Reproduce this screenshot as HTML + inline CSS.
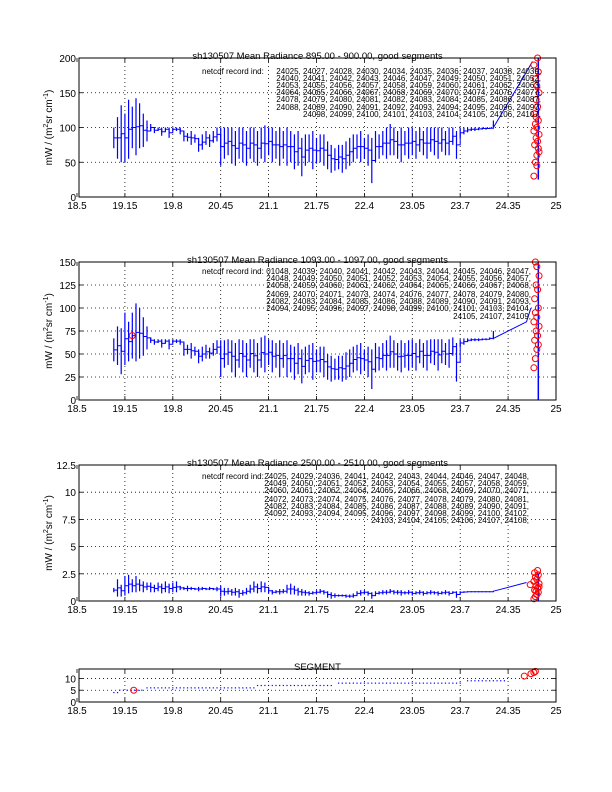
<!DOCTYPE html>
<html><head><meta charset="utf-8"><style>
body{margin:0;background:#fff}
svg{display:block;font-family:"Liberation Sans",sans-serif}
</style></head><body>
<svg id="fig" width="612" height="792" viewBox="0 0 612 792" xmlns="http://www.w3.org/2000/svg"></svg>
<script>
const xTicks=[18.5,19.15,19.8,20.45,21.1,21.75,22.4,23.05,23.7,24.35,25];
const xTickLabels=["18.5","19.15","19.8","20.45","21.1","21.75","22.4","23.05","23.7","24.35","25"];
const times=[19.00,19.05,19.10,19.15,19.20,19.25,19.30,19.35,19.40,19.45,19.50,19.55,19.60,19.65,19.70,19.75,19.80,19.85,19.90,19.95,20.00,20.05,20.10,20.15,20.20,20.25,20.30,20.35,20.40,20.45,20.50,20.55,20.60,20.65,20.70,20.75,20.80,20.85,20.90,20.95,21.00,21.05,21.10,21.15,21.20,21.25,21.30,21.35,21.40,21.45,21.50,21.55,21.60,21.65,21.70,21.75,21.80,21.85,21.90,21.95,22.00,22.05,22.10,22.15,22.20,22.25,22.30,22.35,22.40,22.45,22.50,22.55,22.60,22.65,22.70,22.75,22.80,22.85,22.90,22.95,23.00,23.05,23.10,23.15,23.20,23.25,23.30,23.35,23.40,23.45,23.50,23.55,23.60,23.65,23.70,23.75,23.80,23.85,23.90,23.95,24.00,24.05,24.10,24.15];
const p1Lo=[70,55,50,50,55,70,60,70,72,80,95,92,95,88,95,85,95,95,90,80,80,75,78,65,68,75,72,78,80,45,55,60,48,45,55,50,45,55,50,45,55,50,60,50,55,45,55,45,50,40,45,30,45,50,40,48,50,45,40,35,38,40,35,40,45,50,55,50,55,45,20,50,55,60,55,60,60,55,50,60,55,60,55,65,60,55,65,60,55,65,60,60,75,55,85,90,93,95,95,96,97,97,98,100];
const p1Hi=[100,115,132,120,140,130,142,135,120,110,105,100,100,100,100,100,100,100,100,95,92,95,90,85,90,95,90,95,100,100,100,100,100,95,100,100,95,100,100,95,100,103,100,100,95,100,95,100,95,90,95,85,90,90,95,85,90,90,80,75,70,75,75,80,85,90,90,95,85,90,85,95,90,95,100,105,100,95,100,95,100,100,95,100,95,100,100,100,100,100,95,100,100,95,100,100,100,100,100,100,100,100,100,110];
const p2Lo=[42,38,28,38,42,45,42,45,48,55,62,60,62,57,62,55,62,62,60,48,50,45,48,40,42,45,45,48,50,25,35,38,30,25,35,30,25,35,30,25,35,30,38,30,35,25,35,25,30,22,28,18,28,30,22,30,30,25,22,20,22,22,20,22,25,30,32,28,32,25,12,30,32,35,32,35,35,32,30,35,32,35,32,40,35,32,40,38,32,40,38,35,48,20,58,60,63,64,64,64,65,65,66,66];
const p2Hi=[67,80,78,95,85,95,105,100,90,80,68,66,66,66,66,66,66,66,66,62,60,62,58,55,58,60,57,62,65,65,65,66,65,62,66,65,62,66,66,62,68,70,66,65,62,65,62,65,60,58,62,55,58,60,62,55,58,58,50,48,45,48,48,52,55,58,60,62,55,58,55,62,58,62,65,70,65,62,65,62,65,66,62,66,62,65,66,66,66,66,62,66,68,62,66,67,67,67,67,67,67,67,68,75];
const p3Lo=[0.8,0.4,0.4,0.5,0.7,0.8,0.8,0.9,0.8,1.0,0.8,0.8,0.9,0.7,0.8,0.7,0.8,0.8,1.0,1.0,0.9,1.0,1.0,0.9,1.0,1.0,1.0,1.0,0.9,0.4,0.5,0.6,0.5,0.5,0.3,0.5,0.6,0.7,0.8,0.7,0.8,0.8,0.7,0.6,0.7,0.6,0.7,0.7,0.6,0.6,0.5,0.5,0.5,0.5,0.6,0.6,0.7,0.6,0.3,0.2,0.3,0.4,0.4,0.3,0.3,0.3,0.5,0.5,0.6,0.5,0.2,0.5,0.6,0.6,0.6,0.7,0.6,0.6,0.5,0.6,0.6,0.5,0.6,0.6,0.5,0.6,0.6,0.6,0.5,0.6,0.6,0.5,0.7,0.3,0.7,0.75,0.8,0.8,0.8,0.8,0.8,0.8,0.8,0.85];
const p3Hi=[1.2,2.0,1.5,2.3,2.4,2.0,2.3,2.0,1.8,1.7,1.7,1.5,1.7,1.6,1.8,1.6,1.7,1.8,1.4,1.3,1.4,1.3,1.2,1.3,1.3,1.2,1.3,1.2,1.3,1.4,1.2,1.2,1.1,1.2,1.1,1.0,1.2,1.5,1.8,1.6,1.8,1.7,1.2,1.0,1.0,1.1,1.1,1.5,1.6,1.4,1.2,1.1,1.0,0.9,0.9,1.0,1.1,1.0,0.9,0.8,0.7,0.6,0.6,0.6,0.6,0.7,0.9,1.0,1.0,0.9,0.8,0.9,0.9,1.0,1.0,1.1,1.0,1.0,1.0,0.9,1.0,0.9,0.9,1.0,0.9,0.9,1.0,0.9,0.9,0.9,1.0,0.9,0.9,0.9,0.9,0.9,0.9,0.9,0.9,0.9,0.9,0.9,0.9,0.9];
const p1TailX=[24.15,24.60,24.68],p1TailY=[100,180,195];
const p2TailX=[24.15,24.60,24.66],p2TailY=[67,85,100];
const p3TailX=[24.15,24.60],p3TailY=[0.9,1.7];
const p1RedX=[24.70,24.72,24.74,24.76,24.71,24.75,24.73,24.77,24.70,24.74,24.72,24.76,24.71,24.75,24.73,24.77,24.74,24.72,24.76,24.70,24.75,24.73,24.77,24.74];
const p1RedY=[30,50,60,70,75,80,85,90,95,100,105,110,120,130,140,150,160,170,180,190,200,115,65,45];
const p2RedX=[19.25,24.70,24.72,24.74,24.76,24.71,24.75,24.73,24.77,24.70,24.74,24.72,24.76,24.71,24.75,24.73,24.77,24.74,24.72];
const p2RedY=[70,35,45,55,60,65,70,75,80,85,90,95,100,110,120,125,135,145,150];
const p3RedX=[24.65,24.70,24.72,24.74,24.76,24.71,24.75,24.73,24.77,24.70,24.74,24.72,24.76,24.71,24.75,24.73,24.77];
const p3RedY=[1.5,0.2,0.4,0.6,0.8,1.0,1.2,1.4,1.6,1.8,2.0,2.2,2.4,2.6,2.8,0.9,1.3];
const segStart=[19.00,19.08,19.45,20.95,22.05,23.80];
const segEnd=[19.05,19.40,20.90,21.95,23.70,24.30];
const segVal=[4,5,6,7,8,9];
const segRedX=[19.27,24.57,24.66,24.70,24.72];
const segRedY=[5,11,12,12.5,13];
const ann1=["24025, 24027, 24028, 24030, 24034, 24035, 24036, 24037, 24038, 24039,","24040, 24041, 24042, 24043, 24046, 24047, 24049, 24050, 24051, 24052,","24053, 24055, 24056, 24057, 24058, 24059, 24060, 24061, 24062, 24063,","24064, 24065, 24066, 24067, 24068, 24069, 24070, 24074, 24076, 24077,","24078, 24079, 24080, 24081, 24082, 24083, 24084, 24085, 24086, 24087,","24088, 24089, 24090, 24091, 24092, 24093, 24094, 24095, 24096, 24097,","24098, 24099, 24100, 24101, 24103, 24104, 24105, 24106, 24107,"];
const ann2=["01048, 24039, 24040, 24041, 24042, 24043, 24044, 24045, 24046, 24047,","24048, 24049, 24050, 24051, 24052, 24053, 24054, 24055, 24056, 24057,","24058, 24059, 24060, 24061, 24062, 24064, 24065, 24066, 24067, 24068,","24069, 24070, 24071, 24073, 24074, 24076, 24077, 24078, 24079, 24080,","24082, 24083, 24084, 24085, 24086, 24088, 24089, 24090, 24091, 24093,","24094, 24095, 24096, 24097, 24098, 24099, 24100, 24101, 24103, 24104,","24105, 24107, 24109,"];
const ann3=["24025, 24029, 24036, 24041, 24042, 24043, 24044, 24046, 24047, 24048,","24049, 24050, 24051, 24052, 24053, 24054, 24055, 24057, 24058, 24059,","24060, 24061, 24062, 24064, 24065, 24066, 24068, 24069, 24070, 24071,","24072, 24073, 24074, 24075, 24076, 24077, 24078, 24079, 24080, 24081,","24082, 24083, 24084, 24085, 24086, 24087, 24088, 24089, 24090, 24091,","24092, 24093, 24094, 24095, 24096, 24097, 24098, 24099, 24100, 24102,","24103, 24104, 24105, 24106, 24107, 24108,"];

const NS="http://www.w3.org/2000/svg";
const svg=document.getElementById('fig');
const L=79,R=556;
function X(v){return 77+(v-18.5)*(556-77)/6.5;}
function mk(tag,attrs,parent){const e=document.createElementNS(NS,tag);for(const k in attrs)e.setAttribute(k,attrs[k]);(parent||svg).appendChild(e);return e;}
function txt(s,x,y,size,anchor,parent){const t=mk('text',{x:x,y:y,'font-size':size,'text-anchor':anchor||'start',fill:'#000'},parent);t.textContent=s;return t;}

function panel(cfg){
  const g=mk('g',{});
  
  
  const T=cfg.top,B=cfg.bot;
  const Y=v=>B-(v-cfg.ymin)/(cfg.ymax-cfg.ymin)*(B-T);
  xTicks.forEach((t,i)=>{
    const px=X(t);
    if(i>0&&i<xTicks.length-1){const gl=mk('line',{x1:px,x2:px,y1:T,y2:B,stroke:'#000','stroke-width':0.8,'stroke-dasharray':'1,3'},g);
      }
    mk('line',{x1:px,x2:px,y1:B,y2:B-4,stroke:'#000','stroke-width':0.8},g);
    mk('line',{x1:px,x2:px,y1:T,y2:T+4,stroke:'#000','stroke-width':0.8},g);
    const lb=txt(xTickLabels[i],px,B+12,10,'middle',g);
    
  });
  cfg.yTicks.forEach((t,i)=>{
    const py=Y(t);
    if(i>0&&t<cfg.ymax){const gl=mk('line',{x1:L,x2:R,y1:py,y2:py,stroke:'#000','stroke-width':0.8,'stroke-dasharray':'1,3'},g);
      }
    mk('line',{x1:L,x2:L+4,y1:py,y2:py,stroke:'#000','stroke-width':0.8},g);
    mk('line',{x1:R,x2:R-4,y1:py,y2:py,stroke:'#000','stroke-width':0.8},g);
    const lb=txt(cfg.yLabels[i],L-3,py+4,10,'end',g);
    
  });
  if(cfg.lo){
    let d='';
    times.forEach((t,i)=>{
      const px=X(t).toFixed(1);
      d+='M'+px+','+Y(cfg.hi[i]).toFixed(1)+'L'+px+','+Y(cfg.lo[i]).toFixed(1);
    });
    let s='';
    times.forEach((t,i)=>{
      const m=Y((cfg.lo[i]+cfg.hi[i])/2).toFixed(1);
      s+=(i===0?'M':'L')+X(t).toFixed(1)+','+m;
      if(i<times.length-1)s+='L'+X(times[i+1]).toFixed(1)+','+m;
    });
    cfg.tx.forEach((t,i)=>{s+='L'+X(t).toFixed(1)+','+Y(cfg.ty[i]).toFixed(1);});
    const p=mk('path',{d:d,fill:'none',stroke:'#0000ff','stroke-width':1.2},g);
    
    const p2=mk('path',{d:s,fill:'none',stroke:'#0000ff','stroke-width':1},g);
    
    const vl=mk('line',{x1:X(24.76),x2:X(24.76),y1:Y(cfg.vlo),y2:Y(cfg.vhi),stroke:'#0000ff','stroke-width':1.5},g);
    
  }
  if(cfg.seg){
    cfg.seg.start.forEach((s,k)=>{
      for(let t=s;t<=cfg.seg.end[k]+1e-9;t+=0.05){
        const dt=mk('rect',{x:X(t)-0.6,y:Y(cfg.seg.val[k])-0.6,width:1.2,height:1.2,fill:'#0000ff'},g);
        
      }
    });
  }
  cfg.rx.forEach((x,i)=>{
    const c=mk('circle',{cx:X(x),cy:Y(cfg.ry[i]),r:3,fill:'none',stroke:'#ff0000','stroke-width':1},g);
    
  });
  const box=mk('rect',{x:L,y:T,width:R-L,height:B-T,fill:'none',stroke:'#000','stroke-width':1},g);
  
  const ti=txt(cfg.title,(L+R)/2,T+1,9.5,'middle',g);
  
  if(cfg.ann){
    const nl=txt('netcdf record ind:',202,cfg.annY[0]+3,8,'start',g);
    
    cfg.ann.forEach((s,i)=>{
      const a=txt(s,cfg.annR,cfg.annY[i]+3,8,'end',g);
      
    });
    const cy=(T+B)/2;
    const yl=mk('text',{x:0,y:0,'font-size':10,'text-anchor':'middle',transform:'translate(52,'+cy+') rotate(-90)'},g);
    
    yl.innerHTML='mW / (m<tspan font-size="7" dy="-4">2</tspan><tspan dy="4">sr cm</tspan><tspan font-size="7" dy="-4">-1</tspan><tspan dy="4">)</tspan>';
  }
}
panel({name:'panel-895',top:58,bot:197,ymin:0,ymax:200,yTicks:[0,50,100,150,200],yLabels:["0","50","100","150","200"],
  lo:p1Lo,hi:p1Hi,tx:p1TailX,ty:p1TailY,vlo:25,vhi:200,rx:p1RedX,ry:p1RedY,
  title:'sh130507 Mean Radiance 895.00 - 900.00, good segments',ann:ann1,annR:541,annY:[71,78,85,92,99,107,114]});
panel({name:'panel-1093',top:262,bot:400,ymin:0,ymax:150,yTicks:[0,25,50,75,100,125,150],yLabels:["0","25","50","75","100","125","150"],
  lo:p2Lo,hi:p2Hi,tx:p2TailX,ty:p2TailY,vlo:0,vhi:150,rx:p2RedX,ry:p2RedY,
  title:'sh130507 Mean Radiance 1093.00 - 1097.00, good segments',ann:ann2,annR:531,annY:[271,278,285,294,301,308,316]});
panel({name:'panel-2500',top:465,bot:601,ymin:0,ymax:12.5,yTicks:[0,2.5,5,7.5,10,12.5],yLabels:["0","2.5","5","7.5","10","12.5"],
  lo:p3Lo,hi:p3Hi,tx:p3TailX,ty:p3TailY,vlo:0,vhi:2.5,rx:p3RedX,ry:p3RedY,
  title:'sh130507 Mean Radiance 2500.00 - 2510.00, good segments',ann:ann3,annR:529,annY:[476,483,490,499,506,513,520]});
panel({name:'panel-segment',top:669,bot:702,ymin:0,ymax:14,yTicks:[0,5,10],yLabels:["0","5","10"],
  seg:{start:segStart,end:segEnd,val:segVal},rx:segRedX,ry:segRedY,title:'SEGMENT'});
</script>
</body></html>
